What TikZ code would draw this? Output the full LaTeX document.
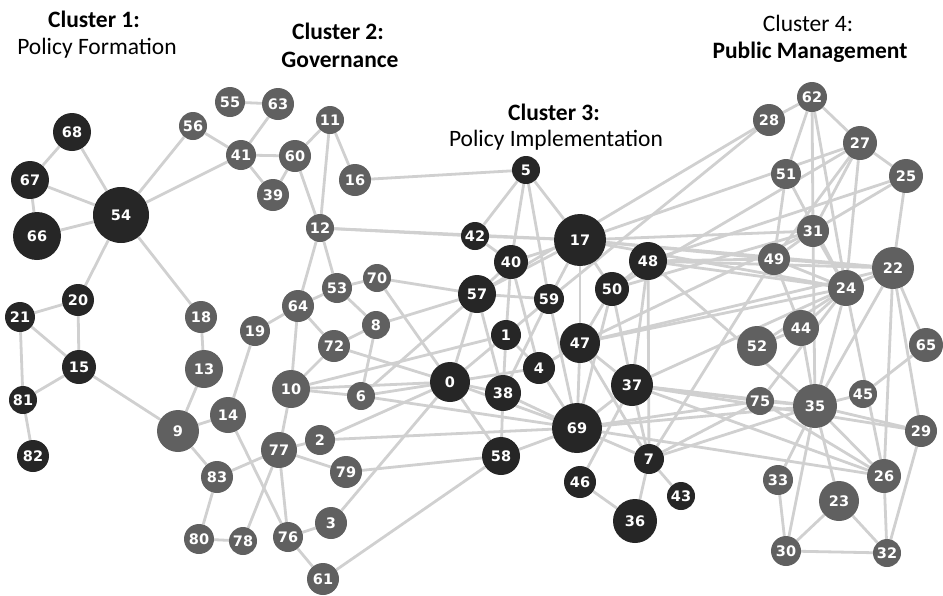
\documentclass[tikz,border=0pt]{standalone}
\usepackage{fontspec}
\setmainfont{Carlito}
\newfontfamily\numfont{DejaVu Sans}
\usetikzlibrary{backgrounds}
\definecolor{darknode}{RGB}{38,38,38}
\definecolor{graynode}{RGB}{96,96,96}
\definecolor{edgegray}{RGB}{208,208,208}
\tikzset{
  dk/.style={circle,inner sep=0pt,fill=darknode,minimum size=#1,text=white,font=\numfont\bfseries\fontsize{14.5}{15}\selectfont},
  gy/.style={circle,inner sep=0pt,fill=graynode,minimum size=#1,text=white,font=\numfont\bfseries\fontsize{14.5}{15}\selectfont},
  edge/.style={draw=edgegray,line width=2.8pt},
  title/.style={font=\fontsize{23.5}{26}\selectfont,text=black,align=center}
}
\begin{document}
\begin{tikzpicture}[x=1pt,y=-1pt]
\useasboundingbox (0,0) rectangle (943,595);

\node[title] (t1a) at (94,19) {\bfseries Cluster 1:};
\node[title] (t1b) at (97,48) {Policy Formation};
\node[title] (t2a) at (338,31) {\bfseries Cluster 2:};
\node[title] (t2b) at (340,60) {\bfseries Governance};
\node[title] (t3a) at (554,112) {\bfseries Cluster 3:};
\node[title] (t3b) at (556,140) {Policy Implementation};
\node[title] (t4a) at (808,23) {Cluster 4:};
\node[title] (t4b) at (810,52) {\bfseries Public Management};

% cluster 1
\node[dk=38] (n68) at (72,132) {68};
\node[dk=38] (n67) at (30,180) {67};
\node[dk=48] (n66) at (37,236) {66};
\node[dk=56] (n54) at (121,215) {54};
\node[dk=32] (n20) at (78,300) {20};
\node[dk=30] (n21) at (20,317) {21};
\node[dk=34] (n15) at (79,367) {15};
\node[dk=28] (n81) at (23,400) {81};
\node[dk=32] (n82) at (33,456) {82};

% cluster 2
\node[gy=30] (n55) at (230,102) {55};
\node[gy=32] (n63) at (278,104) {63};
\node[gy=28] (n56) at (193,126) {56};
\node[gy=30] (n41) at (241,155) {41};
\node[gy=32] (n60) at (295,156) {60};
\node[gy=28] (n11) at (330,120) {11};
\node[gy=32] (n16) at (355,180) {16};
\node[gy=32] (n39) at (273,195) {39};
\node[gy=28] (n12) at (320,228) {12};
\node[gy=30] (n53) at (337,288) {53};
\node[gy=28] (n70) at (377,278) {70};
\node[gy=32] (n64) at (298,306) {64};
\node[gy=32] (n18) at (201,317) {18};
\node[gy=28] (n8) at (376,325) {8};
\node[gy=30] (n19) at (255,331) {19};
\node[gy=32] (n72) at (334,346) {72};
\node[gy=38] (n13) at (204,369) {13};
\node[gy=38] (n10) at (291,389) {10};
\node[gy=28] (n6) at (361,396) {6};
\node[gy=42] (n9) at (178,431) {9};
\node[gy=36] (n14) at (228,415) {14};
\node[gy=30] (n2) at (320,440) {2};
\node[gy=36] (n77) at (279,450) {77};
\node[gy=32] (n79) at (346,472) {79};
\node[gy=32] (n83) at (217,477) {83};
\node[gy=32] (n3) at (331,523) {3};
\node[gy=30] (n80) at (199,539) {80};
\node[gy=28] (n78) at (243,541) {78};
\node[gy=30] (n76) at (288,537) {76};
\node[gy=32] (n61) at (323,579) {61};

% cluster 3
\node[dk=28] (n5) at (526,170) {5};
\node[dk=28] (n42) at (475,236) {42};
\node[dk=52] (n17) at (580,240) {17};
\node[dk=34] (n40) at (511,262) {40};
\node[dk=38] (n48) at (648,261) {48};
\node[dk=38] (n57) at (477,294) {57};
\node[dk=30] (n59) at (549,299) {59};
\node[dk=34] (n50) at (612,289) {50};
\node[dk=30] (n1) at (506,335) {1};
\node[dk=40] (n47) at (580,343) {47};
\node[dk=32] (n4) at (539,368) {4};
\node[dk=40] (n0) at (450,382) {0};
\node[dk=36] (n38) at (503,393) {38};
\node[dk=42] (n37) at (632,385) {37};
\node[dk=50] (n69) at (577,428) {69};
\node[dk=38] (n58) at (501,456) {58};
\node[dk=30] (n7) at (649,459) {7};
\node[dk=32] (n46) at (580,482) {46};
\node[dk=28] (n43) at (681,496) {43};
\node[dk=44] (n36) at (635,521) {36};

% cluster 4
\node[gy=30] (n62) at (812,97) {62};
\node[gy=32] (n28) at (769,120) {28};
\node[gy=34] (n27) at (860,143) {27};
\node[gy=30] (n51) at (786,174) {51};
\node[gy=34] (n25) at (906,176) {25};
\node[gy=32] (n31) at (813,231) {31};
\node[gy=32] (n49) at (774,259) {49};
\node[gy=42] (n22) at (893,268) {22};
\node[gy=36] (n24) at (846,288) {24};
\node[gy=36] (n44) at (801,328) {44};
\node[gy=40] (n52) at (757,346) {52};
\node[gy=34] (n65) at (926,345) {65};
\node[gy=28] (n75) at (760,401) {75};
\node[gy=44] (n35) at (815,406) {35};
\node[gy=28] (n45) at (863,394) {45};
\node[gy=32] (n29) at (921,431) {29};
\node[gy=30] (n33) at (778,480) {33};
\node[gy=34] (n26) at (884,476) {26};
\node[gy=40] (n23) at (839,501) {23};
\node[gy=30] (n30) at (786,551) {30};
\node[gy=28] (n32) at (887,553) {32};

\begin{scope}[on background layer]
\foreach \a/\b in {68/67,68/54,67/54,67/66,66/54,54/56,54/41,54/20,54/18,
  20/21,20/15,21/15,21/81,15/81,81/82,15/9}
  \draw[edge] (n\a) -- (n\b);
\foreach \a/\b in {56/41,55/63,41/63,41/60,41/39,60/11,60/39,60/12,11/12,11/16,
  12/53,12/64,53/70,53/64,53/8,64/19,64/72,64/10,8/72,8/6,72/10,19/14,18/13,
  13/9,9/14,9/83,14/76,83/77,83/80,80/78,78/77,77/76,77/10,77/2,77/79,76/3,
  76/61,10/6}
  \draw[edge] (n\a) -- (n\b);
\foreach \a/\b in {16/5,12/42,12/17,70/57,70/0,8/57,72/0,61/58,3/0,2/0,2/69,
  79/58,6/0,6/57,6/69,10/0,10/1}
  \draw[edge] (n\a) -- (n\b);
\foreach \a/\b in {5/42,5/40,5/59,5/17,42/17,42/40,40/17,40/57,40/1,40/4,
  17/57,17/47,17/59,57/0,57/38,57/59,59/38,59/69,1/38,1/4,4/69,4/0,4/47,
  47/69,47/37,47/7,0/69,0/38,0/59,38/58,38/69,69/7,69/37,69/58,7/36,7/43,
  7/37,46/36,46/37,50/69,50/37,48/37,48/7,17/50,50/48,47/50,0/58}
  \draw[edge] (n\a) -- (n\b);
\foreach \a/\b in {17/24,17/22,17/31,17/49,17/27,48/24,48/22,48/49,48/25,
  48/35,47/24,47/31,47/22,50/31,50/27,37/35,37/75,37/24,37/29,37/26,69/35,
  69/75,69/26,7/75,7/35,7/49,59/28,57/28}
  \draw[edge] (n\a) -- (n\b);
\foreach \a/\b in {62/28,62/27,62/51,62/31,62/24,27/25,27/24,27/31,27/49,
  51/49,51/24,25/22,25/31,31/24,31/49,31/35,49/24,49/44,49/22,22/24,22/65,
  22/29,22/26,22/35,24/35,24/44,24/75,24/26,65/45,35/75,35/33,35/30,35/23,
  35/26,35/29,35/45,29/32,26/32,26/75,33/30,23/30,23/32,30/32,52/24,44/35,
  44/52}
  \draw[edge] (n\a) -- (n\b);
\end{scope}
\end{tikzpicture}
\end{document}
